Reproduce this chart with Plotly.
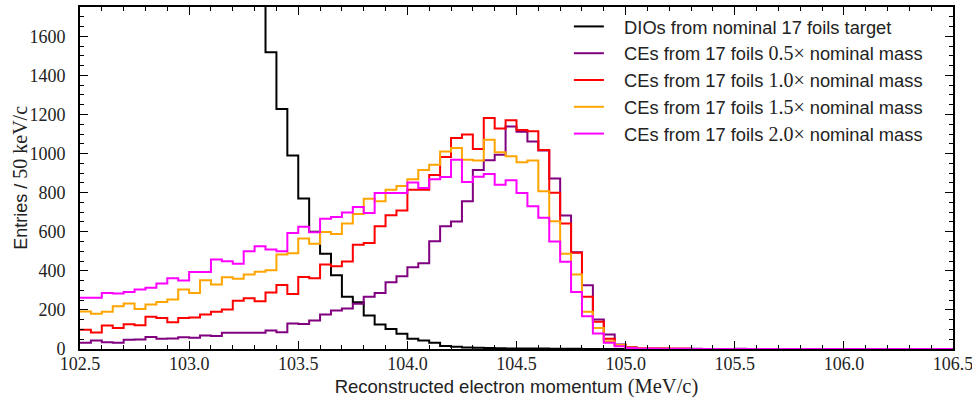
import numpy as np
import plotly.graph_objects as go

# 50 keV/c bins from 102.5 to 106.5 MeV/c
bin_lo = 102.5
bin_w = 0.05
n_bins = 80
edges = bin_lo + bin_w * np.arange(n_bins + 1)

# Axis ticks
x_ticks = [102.5, 103.0, 103.5, 104.0, 104.5, 105.0, 105.5, 106.0, 106.5]
x_tick_text = ["102.5", "103.0", "103.5", "104.0", "104.5", "105.0", "105.5", "106.0", "106.5"]
y_ticks = [0, 200, 400, 600, 800, 1000, 1200, 1400, 1600]

# Decay-in-orbit background (nominal 17-foil target); first bins run off scale
dio = [9800, 9200, 8600, 8000, 7400, 6800, 6200, 5600, 5000, 4500,
       4000, 3500, 3100, 2700, 2350, 2050, 1800, 1519, 1228, 990,
       770, 600, 488, 378, 268, 239, 171, 125, 102, 78,
       52, 43, 32, 15, 12, 8, 6, 5, 4, 3,
       3, 2, 2, 1, 1, 1, 0, 0, 0, 0] + [0] * 30

# Conversion electrons, 17 foils at several target masses
ce_05 = [32, 43, 35, 32, 47, 49, 62, 52, 54, 60,
         57, 69, 66, 83, 83, 83, 83, 95, 86, 130,
         128, 146, 176, 197, 207, 231, 267, 287, 342, 372,
         418, 439, 551, 628, 652, 756, 916, 966, 994, 1138,
         1112, 1062, 1016, 873, 683, 495, 326, 151, 74, 23,
         10, 5, 3, 2, 1, 1, 1, 0, 0, 0,
         1, 0, 0, 0, 0, 0, 0, 0, 0, 0] + [0] * 10

ce_10 = [98, 84, 120, 108, 127, 122, 165, 158, 137, 158,
         161, 176, 190, 202, 247, 260, 244, 289, 328, 281,
         369, 362, 432, 423, 448, 534, 543, 628, 684, 709,
         815, 815, 890, 982, 1080, 1097, 1024, 1182, 1128, 1170,
         1120, 1114, 1018, 800, 642, 492, 267, 139, 52, 20,
         8, 4, 3, 2, 1, 1, 0, 0, 0, 0] + [0] * 20

ce_15 = [192, 181, 190, 219, 233, 205, 228, 241, 253, 304,
         287, 352, 330, 367, 360, 381, 395, 403, 483, 490,
         566, 538, 599, 589, 642, 691, 769, 756, 815, 834,
         868, 916, 943, 1011, 1028, 969, 965, 1071, 1007, 986,
         956, 964, 807, 654, 488, 381, 190, 108, 40, 20,
         8, 4, 2, 2, 1, 1, 0, 0, 0, 0] + [0] * 20

ce_20 = [262, 262, 287, 284, 292, 304, 313, 335, 362, 351,
         394, 394, 458, 449, 436, 500, 526, 509, 500, 594,
         626, 597, 667, 676, 699, 727, 696, 798, 798, 798,
         852, 824, 868, 880, 969, 855, 882, 896, 840, 864,
         798, 730, 671, 550, 446, 292, 168, 79, 32, 14,
         5, 3, 2, 1, 1, 1, 0, 0, 0, 0] + [0] * 20

SERIF = "Liberation Serif"
SANS = "Liberation Sans"


def math(s, size):
    return f'<span style="font-family:{SERIF};font-size:{size}px">{s}</span>'


pad = "&nbsp;&nbsp;&nbsp;"
LEG = 18.3
series = [
    (dio, "black", pad + "DIOs from nominal 17 foils target"),
    (ce_05, "#800080", pad + "CEs from 17 foils " + math("0.5×", 20) + " nominal mass"),
    (ce_10, "#ff0000", pad + "CEs from 17 foils " + math("1.0×", 20) + " nominal mass"),
    (ce_15, "#ffa500", pad + "CEs from 17 foils " + math("1.5×", 20) + " nominal mass"),
    (ce_20, "#ff00ff", pad + "CEs from 17 foils " + math("2.0×", 20) + " nominal mass"),
]

fig = go.Figure()
for counts, color, name in series:
    y = list(counts) + [counts[-1]]
    fig.add_trace(go.Scatter(
        x=edges, y=y, mode="lines", name=name,
        line=dict(color=color, width=2, shape="hv"),
    ))

axis_common = dict(
    showline=True, linecolor="black", linewidth=2, mirror="allticks",
    ticks="inside", ticklen=8, tickwidth=1.2, tickcolor="black",
    showgrid=False, zeroline=False, automargin=False,
    tickfont=dict(family=SERIF, size=18, color="#222"),
)

fig.update_xaxes(
    range=[102.5, 106.5], tickmode="array", tickvals=x_ticks, ticktext=x_tick_text,
    minor=dict(dtick=0.1, tick0=102.5, ticks="inside", ticklen=4,
               tickcolor="black", tickwidth=1),
    title=dict(text="Reconstructed electron momentum " + math("(MeV/c)", 20.5),
               font=dict(family=SANS, size=18.5, color="#222"), standoff=7),
    ticklabelstandoff=-3,
    ticklabeloverflow="allow",
    **axis_common,
)
fig.update_yaxes(
    range=[0, 1750], tickmode="array", tickvals=y_ticks,
    minor=dict(dtick=50, tick0=0, ticks="inside", ticklen=4,
               tickcolor="black", tickwidth=1),
    ticklabelstandoff=9,
    **axis_common,
)

# y-axis title placed beside the tick labels
fig.add_annotation(
    text="Entries / " + math("50 keV/c", 20),
    xref="paper", yref="paper", x=-0.069, y=0.5,
    xanchor="center", yanchor="middle", textangle=-90, showarrow=False,
    font=dict(family=SANS, size=18, color="#222"),
)

fig.update_layout(
    width=972, height=399,
    margin=dict(l=80, r=19, t=7, b=50),
    paper_bgcolor="white", plot_bgcolor="white",
    showlegend=True,
    legend=dict(x=0.56, y=0.997, xanchor="left", yanchor="top",
                bgcolor="rgba(0,0,0,0)", borderwidth=0,
                font=dict(family=SANS, size=LEG, color="#222")),
)

fig.write_html("out.html")
